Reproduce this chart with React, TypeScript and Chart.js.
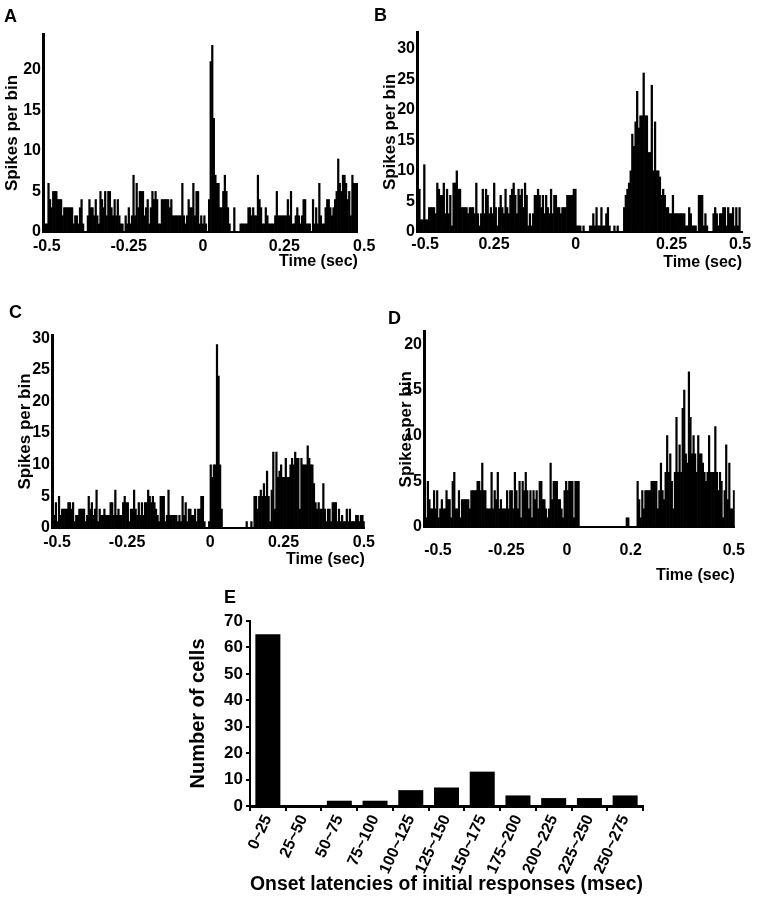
import React, { useEffect, useRef } from 'react';
import { Chart, registerables } from 'chart.js';

Chart.register(...registerables);

const FONT_FAMILY = '"Liberation Sans", Arial, Helvetica, sans-serif';

// 5 ms bins from -0.5 s to +0.5 s
const BIN_START = -0.5;
const BIN_WIDTH = 0.005;

const A_COUNTS = [
  1,1,1,6,4,3,5,5,5,4, 4,4,2,3,3,3,3,3,3,1, 2,2,1,3,4,1,0,0,2,4, 3,3,2,4,2,1,5,4,3,5,
  2,5,5,3,2,4,2,4,2,1, 1,0,2,1,3,1,2,7,2,6, 3,5,5,5,2,3,4,1,3,5, 4,5,4,1,1,4,4,4,4,4,
  3,4,2,2,2,2,2,2,6,2, 1,2,4,3,3,6,2,5,5,1,
  2,1,2,1,0,4,21,23,14,7, 6,6,3,3,5,7,5,3,1,0, 0,3,0,0,0,1,1,1,1,1, 3,3,2,3,2,2,7,4,3,1,
  1,3,2,1,1,1,1,2,5,2, 2,2,2,2,2,4,2,5,1,1, 2,3,2,1,2,4,4,1,1,1, 0,4,1,3,1,6,2,1,1,3,
  4,4,3,2,3,4,5,9,6,5, 7,7,6,4,5,2,7,6,6,6,
];

const B_COUNTS = [
  4,7,2,2,11,2,2,4,4,4, 4,3,8,7,6,6,8,3,7,3, 6,1,8,8,10,7,7,4,4,4, 4,3,4,4,4,3,8,3,1,3,
  7,3,7,6,3,4,3,8,4,1, 4,6,4,3,7,4,3,6,7,8, 6,3,7,6,7,4,8,6,1,3, 1,3,6,6,7,6,4,6,3,6,
  4,3,7,3,6,6,4,4,3,4, 4,4,6,6,6,6,7,7,1,1,
  1,0,1,0,0,0,1,1,3,1, 4,1,1,4,1,1,3,4,1,0, 0,1,0,1,0,0,0,4,6,7, 8,10,16,14,18,23,17,19,19,26,
  19,19,13,13,24,10,18,10,10,9, 6,7,6,4,4,3,3,6,3,3, 3,3,3,3,3,1,1,4,3,1, 1,1,0,6,6,6,1,3,1,0,
  0,0,3,4,3,1,3,3,4,4, 1,4,3,3,4,1,4,1,4,0,
];

const C_COUNTS = [
  8,2,4,1,5,2,3,3,3,3, 4,4,3,4,1,2,2,3,3,3, 3,1,2,5,3,4,2,3,6,1, 3,2,2,3,2,2,2,4,4,2,
  6,2,3,2,2,4,5,4,4,1, 3,3,6,3,2,4,2,4,2,4, 4,6,5,4,5,4,3,2,1,5, 5,5,1,2,6,2,2,2,2,2,
  1,2,1,5,2,4,1,3,3,2, 2,3,1,3,3,5,5,1,0,0,
  1,10,8,10,10,29,24,10,3,0, 0,0,0,0,0,0,0,0,0,0, 0,0,0,0,1,0,0,1,0,5, 5,3,5,6,5,7,5,9,5,1,
  6,12,3,12,8,9,10,8,8,11, 8,8,10,11,10,12,11,11,3,11, 10,10,10,13,11,10,10,7,4,3, 4,3,3,7,3,1,3,3,1,4,
  4,4,1,3,1,2,1,1,3,1, 3,1,1,1,2,2,1,2,2,1,
];

const D_COUNTS = [
  1,1,5,3,2,2,4,2,4,1, 2,3,2,2,4,3,3,1,5,6, 2,2,4,1,3,3,3,3,3,2, 4,4,4,4,5,5,4,7,4,4,
  2,2,2,6,2,4,3,6,2,3, 2,2,2,4,2,4,4,2,6,4, 2,5,1,5,4,6,4,2,4,1, 4,3,4,2,5,5,3,3,2,1,
  2,7,3,5,5,5,3,3,2,1, 4,5,4,5,5,5,1,5,5,5,
  0,0,0,0,0,0,0,0,0,0, 0,0,0,0,0,0,0,0,0,0, 0,0,0,0,0,0,0,0,0,0, 1,1,0,0,0,0,0,5,3,1,
  4,2,4,4,4,4,5,5,5,5, 2,4,7,4,3,6,10,6,8,5, 2,6,12,6,9,6,13,15,8,7, 17,12,8,10,8,6,10,8,8,7,
  6,5,6,10,6,6,6,11,6,4, 6,5,1,4,9,3,7,2,2,4,
];

// Tick labels as printed under each panel, and where each one sits on the time axis (sec)
const A_TICK_LABELS = ['-0.5', '-0.25', '0', '0.25', '0.5'];
const A_TICK_POS = [-0.488, -0.228, 0.008, 0.266, 0.52];
const B_TICK_LABELS = ['-0.5', '0.25', '0', '0.25', '0.5'];
const B_TICK_POS = [-0.475, -0.263, -0.012, 0.283, 0.494];
const C_TICK_LABELS = ['-0.5', '-0.25', '0', '0.25', '0.5'];
const C_TICK_POS = [-0.484, -0.26, 0.006, 0.24, 0.497];
const D_TICK_LABELS = ['-0.5', '-0.25', '0', '0.2', '0.5'];
const D_TICK_POS = [-0.455, -0.235, -0.04, 0.165, 0.497];

const E_CATEGORIES = ['0~25', '25~50', '50~75', '75~100', '100~125', '125~150', '150~175', '175~200', '200~225', '225~250', '250~275'];
const E_CELLS = [65, 0, 2, 2, 6, 7, 13, 4, 3, 3, 4];

const font = (size: number) => ({ family: FONT_FAMILY, size, weight: 'bold' as const, lineHeight: 1.2 });

type HistProps = {
  counts: number[];
  yMax: number;
  tickPos: number[];
  tickLabels: string[];
  yWidth: number;
  xHeight: number;
  padTop: number;
  padRight: number;
  xTickPad: number;
  xTitlePadBottom: number;
  yTitlePadTop: number;
};

function histogramConfig(p: HistProps): any {
  const points = p.counts.map((c, i) => ({ x: BIN_START + (i + 0.5) * BIN_WIDTH, y: c }));
  const axisGrid = { display: true, drawOnChartArea: false, drawTicks: false };
  return {
    type: 'bar',
    data: {
      datasets: [
        {
          data: points,
          backgroundColor: '#000',
          borderWidth: 0,
          barPercentage: 1,
          categoryPercentage: 1,
        },
      ],
    },
    options: {
      animation: false,
      responsive: false,
      maintainAspectRatio: false,
      events: [],
      layout: { padding: { top: p.padTop, right: p.padRight, left: 0, bottom: 0 } },
      plugins: { legend: { display: false }, tooltip: { enabled: false } },
      scales: {
        x: {
          type: 'linear',
          min: -0.5,
          max: 0.5,
          offset: false,
          afterBuildTicks: (s: any) => {
            s.ticks = p.tickPos.map((v) => ({ value: v }));
          },
          afterFit: (s: any) => {
            s.height = p.xHeight;
          },
          grid: axisGrid,
          border: { display: true, color: '#000', width: 2 },
          ticks: {
            autoSkip: false,
            maxRotation: 0,
            color: '#000',
            font: font(16),
            padding: p.xTickPad,
            callback: (_v: any, i: number) => p.tickLabels[i],
          },
          title: {
            display: true,
            text: 'Time (sec)',
            align: 'end',
            color: '#000',
            font: font(16),
            padding: { top: 0, bottom: p.xTitlePadBottom },
          },
        },
        y: {
          min: 0,
          max: p.yMax,
          afterFit: (s: any) => {
            s.width = p.yWidth;
          },
          grid: axisGrid,
          border: { display: true, color: '#000', width: 3 },
          ticks: {
            stepSize: 5,
            includeBounds: false,
            color: '#000',
            font: font(16),
            padding: 2,
          },
          title: {
            display: true,
            text: 'Spikes per bin',
            color: '#000',
            font: font(17),
            padding: { top: p.yTitlePadTop, bottom: 0 },
          },
        },
      },
    },
  };
}

function latencyConfig(): any {
  return {
    type: 'bar',
    data: {
      labels: E_CATEGORIES,
      datasets: [
        {
          data: E_CELLS,
          backgroundColor: '#000',
          borderWidth: 0,
          barPercentage: 0.7,
          categoryPercentage: 1,
        },
      ],
    },
    options: {
      animation: false,
      responsive: false,
      maintainAspectRatio: false,
      events: [],
      layout: { padding: { top: 21, right: 7, left: 0, bottom: 0 } },
      plugins: { legend: { display: false }, tooltip: { enabled: false } },
      scales: {
        x: {
          type: 'category',
          offset: true,
          afterFit: (s: any) => {
            s.height = 94;
          },
          grid: {
            display: true,
            drawOnChartArea: false,
            drawTicks: true,
            tickLength: 5,
            offset: true,
            color: '#000',
            lineWidth: 2,
          },
          border: { display: true, color: '#000', width: 3 },
          ticks: {
            autoSkip: false,
            minRotation: 65,
            maxRotation: 65,
            color: '#000',
            font: font(16),
            padding: 1,
          },
          title: {
            display: true,
            text: 'Onset latencies of initial responses (msec)',
            color: '#000',
            font: font(20),
            padding: { top: 0, bottom: 4 },
          },
        },
        y: {
          min: 0,
          max: 70,
          afterFit: (s: any) => {
            s.width = 70;
          },
          grid: {
            display: true,
            drawOnChartArea: false,
            drawTicks: true,
            tickLength: 4,
            color: '#000',
            lineWidth: 2,
          },
          border: { display: true, color: '#000', width: 2 },
          ticks: { stepSize: 10, color: '#000', font: font(17), padding: 3 },
          title: {
            display: true,
            text: 'Number of cells',
            color: '#000',
            font: font(20),
            padding: { top: 6, bottom: 0 },
          },
        },
      },
    },
  };
}

function ChartCanvas(props: { left: number; top: number; width: number; height: number; make: () => any }) {
  const ref = useRef<HTMLCanvasElement>(null);
  useEffect(() => {
    const chart = new Chart(ref.current as HTMLCanvasElement, props.make());
    return () => chart.destroy();
  }, []);
  return (
    <canvas
      ref={ref}
      width={props.width}
      height={props.height}
      style={{ position: 'absolute', left: props.left, top: props.top, width: props.width, height: props.height, display: 'block' }}
    />
  );
}

function PanelLetter(props: { text: string; left: number; top: number }) {
  return (
    <div
      style={{
        position: 'absolute',
        left: props.left,
        top: props.top,
        fontFamily: FONT_FAMILY,
        fontWeight: 'bold',
        fontSize: 18,
        lineHeight: '20px',
        color: '#000',
      }}
    >
      {props.text}
    </div>
  );
}

export default function App() {
  return (
    <div style={{ position: 'absolute', left: 0, top: 0, width: 759, height: 900, background: '#fff', overflow: 'hidden' }}>
      <ChartCanvas
        left={0}
        top={20}
        width={380}
        height={251}
        make={() =>
          histogramConfig({
            counts: A_COUNTS, yMax: 24.4, tickPos: A_TICK_POS, tickLabels: A_TICK_LABELS,
            yWidth: 43, xHeight: 39, padTop: 14, padRight: 17, xTickPad: 5, xTitlePadBottom: 0, yTitlePadTop: 2,
          })
        }
      />
      <ChartCanvas
        left={380}
        top={20}
        width={379}
        height={252}
        make={() =>
          histogramConfig({
            counts: B_COUNTS, yMax: 32.7, tickPos: B_TICK_POS, tickLabels: B_TICK_LABELS,
            yWidth: 37, xHeight: 40, padTop: 12, padRight: 17, xTickPad: 3, xTitlePadBottom: 0, yTitlePadTop: 0,
          })
        }
      />
      <ChartCanvas
        left={0}
        top={320}
        width={380}
        height={250}
        make={() =>
          histogramConfig({
            counts: C_COUNTS, yMax: 30.5, tickPos: C_TICK_POS, tickLabels: C_TICK_LABELS,
            yWidth: 52, xHeight: 42, padTop: 15, padRight: 7, xTickPad: 5, xTitlePadBottom: 1, yTitlePadTop: 15,
          })
        }
      />
      <ChartCanvas
        left={380}
        top={320}
        width={379}
        height={270}
        make={() =>
          histogramConfig({
            counts: D_COUNTS, yMax: 21.4, tickPos: D_TICK_POS, tickLabels: D_TICK_LABELS,
            yWidth: 44, xHeight: 63, padTop: 10, padRight: 16, xTickPad: 14, xTitlePadBottom: 5, yTitlePadTop: 16,
          })
        }
      />
      <ChartCanvas left={180} top={600} width={470} height={300} make={latencyConfig} />
      <PanelLetter text="A" left={4} top={6} />
      <PanelLetter text="B" left={374} top={5} />
      <PanelLetter text="C" left={9} top={302} />
      <PanelLetter text="D" left={388} top={308} />
      <PanelLetter text="E" left={224} top={587} />
    </div>
  );
}
